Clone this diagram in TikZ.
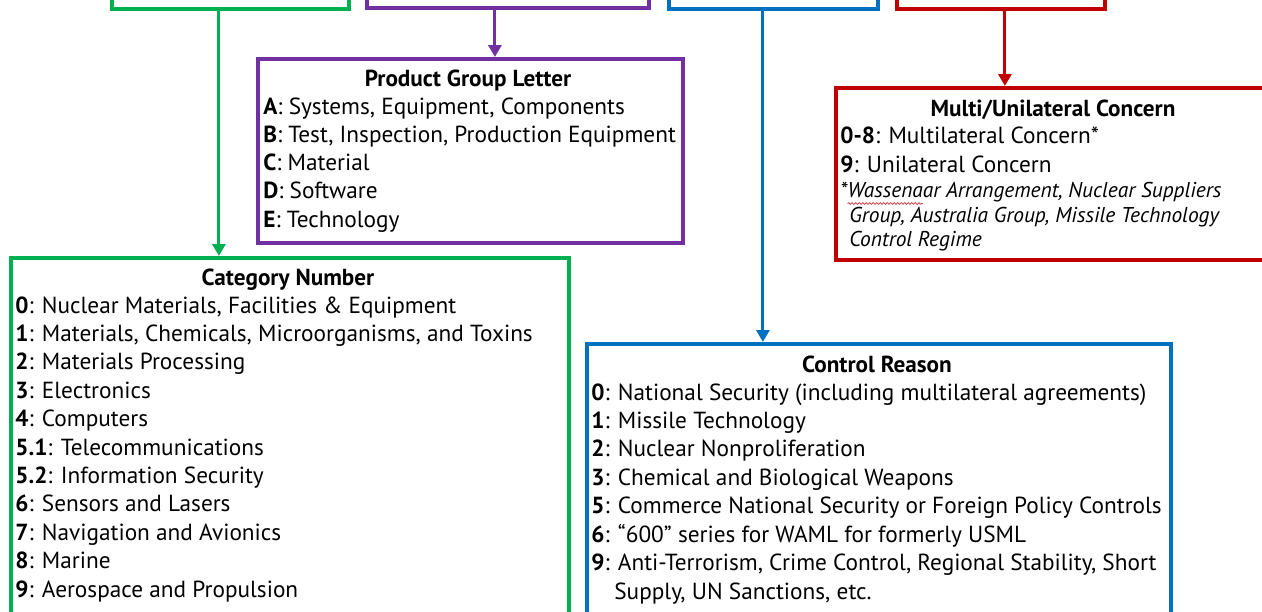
\documentclass[tikz,border=0pt]{standalone}
\usepackage{fontspec}
\setmainfont{PT Sans}
\usetikzlibrary{arrows.meta,positioning,decorations.pathmorphing}
\definecolor{catgreen}{HTML}{00B050}
\definecolor{grppurple}{HTML}{7030A0}
\definecolor{rsnblue}{HTML}{0070C0}
\definecolor{conred}{HTML}{C00000}
\newcommand{\entryfont}{\fontsize{13.25}{15}\selectfont}
\newcommand{\headfont}{\bfseries\fontsize{13.2}{15}\selectfont}
\newcommand{\notefont}{\itshape\fontsize{12.2}{14}\selectfont}
\newcommand{\ccode}[1]{\textbf{#1}}

\begin{document}
\begin{tikzpicture}[x=0.02cm, y=-0.02cm,
    panel/.style={draw=#1, line width=2.2pt, inner sep=0pt, anchor=north west, fill=white},
    link/.style={draw=#1, line width=1.7pt, -{Triangle[length=2.4mm,width=2.6mm]}},
    entry/.style={anchor=base west, inner sep=0pt, font=\entryfont},
    head/.style={anchor=base, inner sep=0pt, font=\headfont},
    note/.style={anchor=base west, inner sep=0pt, font=\notefont}]
    \useasboundingbox (0,0) rectangle (1262,612);
    \clip (0,0) rectangle (1262,612);

    % ECCN character boxes (cut off at the top)
    \node[panel=catgreen, minimum width=4.74cm, minimum height=1.34cm] (catkey) at (110,-60) {};
    \node[panel=grppurple, minimum width=5.64cm, minimum height=1.32cm] (grpkey) at (365,-60) {};
    \node[panel=rsnblue, minimum width=4.18cm, minimum height=1.34cm] (rsnkey) at (667,-60) {};
    \node[panel=conred, minimum width=4.16cm, minimum height=1.35cm] (conkey) at (895,-60) {};

    % Explanation boxes
    \node[panel=grppurple, minimum width=8.5cm, minimum height=3.68cm] (grp) at (256,57) {};
    \node[panel=conred, minimum width=8.8cm, minimum height=3.44cm] (con) at (834,86) {};
    \node[panel=catgreen, minimum width=11.16cm, minimum height=7.7cm] (cat) at (9,256) {};
    \node[panel=rsnblue, minimum width=11.68cm, minimum height=6cm] (rsn) at (585,342) {};

    % Connectors
    \draw[link=catgreen] ([xshift=-0.23cm]catkey.south) -- ([xshift=-0.23cm]catkey.south |- cat.north);
    \draw[link=grppurple] ([xshift=-0.26cm]grpkey.south) -- ([xshift=-0.26cm]grpkey.south |- grp.north);
    \draw[link=rsnblue] ([xshift=-0.21cm]rsnkey.south) -- ([xshift=-0.21cm]rsnkey.south |- rsn.north);
    \draw[link=conred] ([xshift=0.08cm]conkey.south) -- ([xshift=0.08cm]conkey.south |- con.north);

    % Product group letter
    \node[head] (grp-head) at (468,86) {Product Group Letter};
    \foreach \k/\txt [count=\i from 0] in {A/{Systems, Equipment, Components}, B/{Test, Inspection, Production Equipment}, C/Material, D/Software, E/Technology}
        \node[entry] (grp-\i) at (263,{114+28.3*\i}) {\ccode{\k}: \txt};

    % Multi/unilateral concern
    \node[head] (con-head) at (1053,116) {Multi/Unilateral Concern};
    \node[entry] (con-0) at (840,143) {\ccode{0-8}: Multilateral Concern*};
    \node[entry] (con-1) at (840,172) {\ccode{9}: Unilateral Concern};
    \node[note] (con-2) at (840,197) {*Wassenaar Arrangement, Nuclear Suppliers};
    \node[note] (con-3) at (849,222) {Group, Australia Group, Missile Technology};
    \node[note] (con-4) at (849,246) {Control Regime};
    \draw[conred!80, line width=0.4pt, decorate, decoration={snake, amplitude=0.5pt, segment length=2pt}]
        ([xshift=0.15cm, yshift=-0.13cm]con-2.base west) -- ([xshift=1.66cm, yshift=-0.13cm]con-2.base west);

    % Category number
    \node[head] (cat-head) at (288,285) {Category Number};
    \foreach \k/\txt [count=\i from 0] in {0/{Nuclear Materials, Facilities \& Equipment}, 1/{Materials, Chemicals, Microorganisms, and Toxins}, 2/Materials Processing, 3/Electronics, 4/Computers, 5.1/Telecommunications, 5.2/Information Security, 6/Sensors and Lasers, 7/Navigation and Avionics, 8/Marine, 9/Aerospace and Propulsion}
        \node[entry] (cat-\i) at (15,{313+28.4*\i}) {\ccode{\k}: \txt};

    % Control reason
    \node[head] (rsn-head) at (877,372) {Control Reason};
    \foreach \k/\txt [count=\i from 0] in {0/{National Security (including multilateral agreements)}, 1/Missile Technology, 2/Nuclear Nonproliferation, 3/Chemical and Biological Weapons, 5/Commerce National Security or Foreign Policy Controls, 6/{“600” series for WAML for formerly USML}, 9/{Anti-Terrorism, Crime Control, Regional Stability, Short}}
        \node[entry] (rsn-\i) at (591,{400+28.4*\i}) {\ccode{\k}: \txt};
    \node[entry] (rsn-7) at (614,599) {Supply, UN Sanctions, etc.};
\end{tikzpicture}
\end{document}
